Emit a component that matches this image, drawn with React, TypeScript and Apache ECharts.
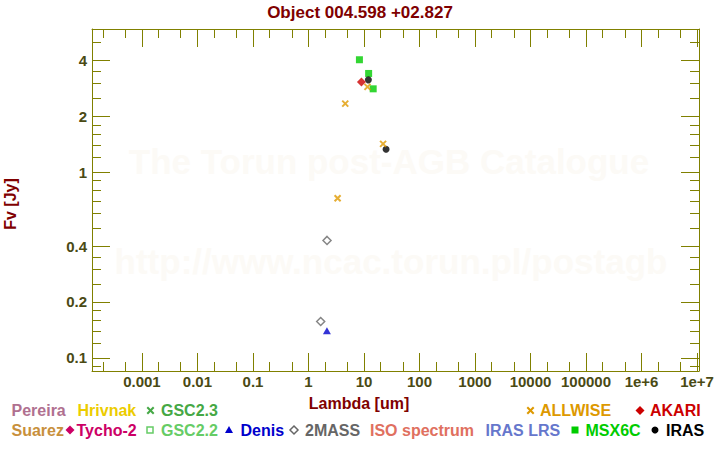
import React, { useEffect, useRef } from "react";
import * as echarts from "echarts";

// ---- axis ranges and ticks ----
const X_RANGE = [1.26e-4, 1.085e7];
const Y_RANGE = [0.085, 5.9];

const X_TICK_VALUES = [0.001, 0.01, 0.1, 1, 10, 100, 1000, 10000, 100000, 1e6, 1e7];
const X_TICK_LABELS = ["0.001", "0.01", "0.1", "1", "10", "100", "1000", "10000", "100000", "1e+6", "1e+7"];
const X_MINOR_VALUES = [2e-4, 5e-4, 2e-3, 5e-3, 0.02, 0.05, 0.2, 0.5, 2, 5, 20, 50, 200, 500, 2000, 5000, 2e4, 5e4, 2e5, 5e5, 2e6, 5e6];

const Y_TICK_VALUES = [0.1, 0.2, 0.4, 1, 2, 4];
const Y_TICK_LABELS = ["0.1", "0.2", "0.4", "1", "2", "4"];
const Y_MINOR_VALUES = [0.09, 0.12, 0.14, 0.16, 0.18, 0.25, 0.3, 0.35, 0.5, 0.6, 0.7, 0.8, 0.9, 1.2, 1.4, 1.6, 1.8, 2.5, 3, 3.5, 5];

// ---- photometry (lambda in um, flux in Jy) ----
const MSX6C_LAMBDA = [8.28, 12.13, 14.65];
const MSX6C_FLUX = [4.03, 3.4, 2.81];
const ALLWISE_LAMBDA = [3.35, 4.6, 11.56, 22.09];
const ALLWISE_FLUX = [0.724, 2.34, 2.88, 1.42];
const AKARI_LAMBDA = [9];
const AKARI_FLUX = [3.06];
const IRAS_LAMBDA = [12, 25];
const IRAS_FLUX = [3.14, 1.33];
const TWOMASS_LAMBDA = [1.66, 2.16];
const TWOMASS_FLUX = [0.157, 0.429];
const DENIS_LAMBDA = [2.15];
const DENIS_FLUX = [0.14];

const TITLE = "Object 004.598 +02.827";
const X_NAME = "Lambda [um]";
const Y_NAME = "Fv [Jy]";
const WATERMARK = ["The Torun post-AGB Catalogue", "http://www.ncac.torun.pl/postagb"];

const LEGEND_NAMES = ["Pereira", "Hrivnak", "GSC2.3", "ALLWISE", "AKARI", "Suarez", "Tycho-2", "GSC2.2", "Denis", "2MASS", "ISO spectrum", "IRAS LRS", "MSX6C", "IRAS"];

// ---- layout / style (not data) ----
const FONT = "'Liberation Sans', Arial, Helvetica, sans-serif";
const OLIVE = "#808000";
const LABEL_COLOR = "#4a4a14";
const DARK_RED = "#800000";
const WATERMARK_COLOR = "#fcfaf6";

const LEGEND_LAYOUT: Record<string, { color: string; marker: string | null; mx: number; tx: number; y: number }> = {
  "Pereira": { color: "#b07090", marker: null, mx: 0, tx: 11.5, y: 410.5 },
  "Hrivnak": { color: "#eccc00", marker: null, mx: 0, tx: 77.5, y: 410.5 },
  "GSC2.3": { color: "#45a845", marker: "x", mx: 150.5, tx: 161, y: 410.5 },
  "ALLWISE": { color: "#dd9900", marker: "x", mx: 530.5, tx: 540, y: 410.5 },
  "AKARI": { color: "#cc0000", marker: "diamond", mx: 640, tx: 650, y: 410.5 },
  "Suarez": { color: "#c8903c", marker: null, mx: 0, tx: 11.5, y: 430 },
  "Tycho-2": { color: "#cc0066", marker: "diamond", mx: 70, tx: 76.5, y: 430 },
  "GSC2.2": { color: "#66cc66", marker: "openSquare", mx: 150, tx: 161, y: 430 },
  "Denis": { color: "#0000cc", marker: "triangle", mx: 229, tx: 240.5, y: 430 },
  "2MASS": { color: "#666666", marker: "openDiamond", mx: 294, tx: 305, y: 430 },
  "ISO spectrum": { color: "#e07060", marker: null, mx: 0, tx: 370, y: 430 },
  "IRAS LRS": { color: "#6677cc", marker: null, mx: 0, tx: 485.5, y: 430 },
  "MSX6C": { color: "#00cc00", marker: "square", mx: 575, tx: 585.5, y: 430 },
  "IRAS": { color: "#000000", marker: "circle", mx: 655, tx: 666, y: 430 },
};

function pairs(xs: number[], ys: number[]) {
  return xs.map((x, i) => [x, ys[i]]);
}

function labelFor(values: number[], labels: string[]) {
  return (v: number) => {
    let best = 0;
    let bestD = Infinity;
    values.forEach((t, i) => {
      const d = Math.abs(Math.log10(v) - Math.log10(t));
      if (d < bestD) {
        bestD = d;
        best = i;
      }
    });
    return labels[best];
  };
}

function legendMarker(kind: string, cx: number, cy: number, color: string): any[] {
  const s = 3.2;
  switch (kind) {
    case "x":
      return [
        { type: "line", shape: { x1: cx - s, y1: cy - s, x2: cx + s, y2: cy + s }, style: { stroke: color, lineWidth: 2 } },
        { type: "line", shape: { x1: cx - s, y1: cy + s, x2: cx + s, y2: cy - s }, style: { stroke: color, lineWidth: 2 } },
      ];
    case "diamond":
      return [{ type: "polygon", shape: { points: [[cx, cy - 4.5], [cx + 4.5, cy], [cx, cy + 4.5], [cx - 4.5, cy]] }, style: { fill: color } }];
    case "openDiamond":
      return [{ type: "polygon", shape: { points: [[cx, cy - 4], [cx + 4, cy], [cx, cy + 4], [cx - 4, cy]] }, style: { fill: "#fff", stroke: color, lineWidth: 1.5 } }];
    case "triangle":
      return [{ type: "polygon", shape: { points: [[cx, cy - 4], [cx + 4, cy + 3], [cx - 4, cy + 3]] }, style: { fill: color } }];
    case "square":
      return [{ type: "rect", shape: { x: cx - 3.5, y: cy - 3.5, width: 7, height: 7 }, style: { fill: color } }];
    case "openSquare":
      return [{ type: "rect", shape: { x: cx - 3, y: cy - 3, width: 6, height: 6 }, style: { fill: "#fff", stroke: color, lineWidth: 1.5 } }];
    case "circle":
      return [{ type: "circle", shape: { cx, cy, r: 3.5 }, style: { fill: color } }];
    default:
      return [];
  }
}

function text(str: string, x: number, y: number, font: string, fill: string, align = "left", rotation = 0): any {
  return {
    type: "text",
    x,
    y,
    rotation,
    silent: true,
    style: {
      text: str,
      font,
      fill,
      align,
      verticalAlign: "middle",
      textAlign: align,
      textVerticalAlign: "middle",
    },
  };
}

function logAxis(kind: "x" | "y", position: string, major: boolean, showLabels: boolean): any {
  const range = kind === "x" ? X_RANGE : Y_RANGE;
  const tickValues = major ? (kind === "x" ? X_TICK_VALUES : Y_TICK_VALUES) : (kind === "x" ? X_MINOR_VALUES : Y_MINOR_VALUES);
  return {
    type: "log",
    position,
    min: range[0],
    max: range[1],
    offset: 0,
    axisLine: { show: major, onZero: false, lineStyle: { color: OLIVE, width: 1 } },
    axisTick: {
      show: true,
      inside: true,
      length: major ? 18 : 9,
      customValues: tickValues,
      lineStyle: { color: OLIVE, width: 1 },
    },
    axisLabel: showLabels
      ? {
          show: true,
          customValues: kind === "x" ? X_TICK_VALUES : Y_TICK_VALUES,
          formatter: kind === "x" ? labelFor(X_TICK_VALUES, X_TICK_LABELS) : labelFor(Y_TICK_VALUES, Y_TICK_LABELS),
          color: LABEL_COLOR,
          fontFamily: FONT,
          fontWeight: "bold",
          fontSize: 15,
          margin: kind === "x" ? 3 : 5,
          hideOverlap: false,
        }
      : { show: false },
    splitLine: { show: false },
    minorTick: { show: false },
    minorSplitLine: { show: false },
  };
}

export default function App() {
  const ref = useRef<HTMLDivElement>(null);

  useEffect(() => {
    if (!ref.current) return;
    const chart = echarts.init(ref.current, null, { renderer: "svg" });

    const graphics: any[] = [];
    // watermark
    graphics.push(text(WATERMARK[0], 389, 161.5, `bold 35px ${FONT}`, WATERMARK_COLOR, "center"));
    graphics.push(text(WATERMARK[1], 391, 261.5, `bold 35px ${FONT}`, WATERMARK_COLOR, "center"));
    // title and axis names
    graphics.push(text(TITLE, 360, 12, `bold 17px ${FONT}`, DARK_RED, "center"));
    graphics.push(text(X_NAME, 359, 403.5, `bold 16px ${FONT}`, DARK_RED, "center"));
    graphics.push(text(Y_NAME, 10.5, 204, `bold 16px ${FONT}`, DARK_RED, "center", Math.PI / 2));
    // legend
    LEGEND_NAMES.forEach((name) => {
      const l = LEGEND_LAYOUT[name];
      if (l.marker) graphics.push(...legendMarker(l.marker, l.mx, l.y, l.color));
      graphics.push(text(name, l.tx, l.y, `bold 16px ${FONT}`, l.color, "left"));
    });

    const option: any = {
      animation: false,
      backgroundColor: "#ffffff",
      grid: { left: 92, right: 21, top: 29, bottom: 79, containLabel: false, outerBoundsMode: "none", show: false },
      xAxis: [
        logAxis("x", "bottom", true, true),
        logAxis("x", "bottom", false, false),
        logAxis("x", "top", true, false),
        logAxis("x", "top", false, false),
      ],
      yAxis: [
        logAxis("y", "left", true, true),
        logAxis("y", "left", false, false),
        logAxis("y", "right", true, false),
        logAxis("y", "right", false, false),
      ],
      graphic: { elements: graphics },
      series: [
        {
          name: "MSX6C",
          type: "scatter",
          xAxisIndex: 0,
          yAxisIndex: 0,
          symbol: "rect",
          symbolSize: 7,
          itemStyle: { color: "#00cc00" },
          data: pairs(MSX6C_LAMBDA, MSX6C_FLUX),
          z: 3,
        },
        {
          name: "IRAS",
          type: "scatter",
          xAxisIndex: 0,
          yAxisIndex: 0,
          symbol: "circle",
          symbolSize: 7,
          itemStyle: { color: "#000000" },
          data: pairs(IRAS_LAMBDA, IRAS_FLUX),
          z: 4,
        },
        {
          name: "AKARI",
          type: "scatter",
          xAxisIndex: 0,
          yAxisIndex: 0,
          symbol: "diamond",
          symbolSize: 9,
          itemStyle: { color: "#cc0000" },
          data: pairs(AKARI_LAMBDA, AKARI_FLUX),
          z: 5,
        },
        {
          name: "ALLWISE",
          type: "scatter",
          xAxisIndex: 0,
          yAxisIndex: 0,
          symbol: "path://M0,0L10,10M0,10L10,0",
          symbolSize: 6,
          itemStyle: { color: "none", borderColor: "#e09a00", borderWidth: 2 },
          data: pairs(ALLWISE_LAMBDA, ALLWISE_FLUX),
          z: 6,
        },
        {
          name: "2MASS",
          type: "scatter",
          xAxisIndex: 0,
          yAxisIndex: 0,
          symbol: "diamond",
          symbolSize: 8,
          itemStyle: { color: "#ffffff", borderColor: "#666666", borderWidth: 1.5 },
          data: pairs(TWOMASS_LAMBDA, TWOMASS_FLUX),
          z: 5,
        },
        {
          name: "Denis",
          type: "scatter",
          xAxisIndex: 0,
          yAxisIndex: 0,
          symbol: "triangle",
          symbolSize: [8, 7],
          itemStyle: { color: "#0000cc" },
          data: pairs(DENIS_LAMBDA, DENIS_FLUX),
          z: 5,
        },
      ],
    };

    chart.setOption(option);
    return () => chart.dispose();
  }, []);

  return (
    <div
      ref={ref}
      style={{ position: "fixed", left: 0, top: 0, width: 720, height: 450, background: "#fff" }}
    />
  );
}
